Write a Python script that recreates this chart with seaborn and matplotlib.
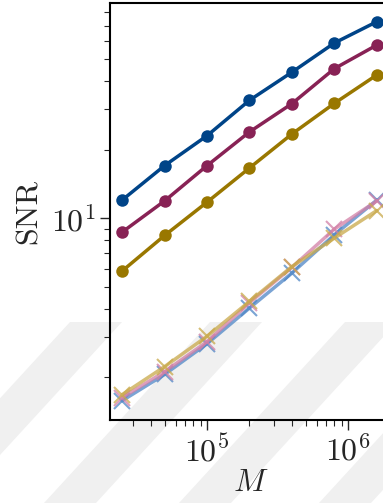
import matplotlib
matplotlib.use("Agg")
import matplotlib.pyplot as plt
from matplotlib.patches import Polygon
from matplotlib.ticker import NullFormatter, LogLocator
import pandas as pd
import seaborn as sns

# sample sizes and measured SNR for each configuration
M = [25000, 50000, 100000, 200000, 400000, 800000, 1600000]
snr_blue = [12.0, 17.0, 23.0, 32.9, 43.7, 58.7, 72.8]
snr_wine = [8.68, 11.9, 17.0, 23.9, 31.8, 45.3, 57.5]
snr_gold = [5.86, 8.39, 11.75, 16.6, 23.4, 31.9, 42.5]
snr_blue_x = [1.58, 2.06, 2.81, 4.03, 5.74, 8.45, 12.0]
snr_wine_x = [1.63, 2.12, 2.87, 4.25, 6.08, 8.95, 11.9]
snr_gold_x = [1.68, 2.23, 3.03, 4.31, 6.13, 8.17, 10.8]

sns.set_style("ticks")
plt.rcParams["font.family"] = ["cmr10", "DejaVu Serif"]
plt.rcParams["mathtext.fontset"] = "cm"
plt.rcParams["axes.formatter.use_mathtext"] = True
plt.rcParams["axes.unicode_minus"] = False

W, H = 383, 503
fig = plt.figure(figsize=(W / 100, H / 100), dpi=100)

# diagonal light-grey bands in the lower part of the figure
for x0 in [-70, 70, 210, 345, 485]:
    top, bot, w, shift = 322, 503, 52, 166
    pts = [(x0, top), (x0 + w, top), (x0 + w - shift, bot), (x0 - shift, bot)]
    poly = Polygon([(px / W, 1 - py / H) for px, py in pts], closed=True,
                   transform=fig.transFigure, facecolor="#f0f0f0",
                   edgecolor="none", zorder=-5)
    fig.patches.append(poly)

ax = fig.add_axes([110 / W, 83 / H, 280.5 / W, 417.3 / H])
ax.set_zorder(2)
ax.set_facecolor("none")

dark = {"blue": "#004488", "wine": "#882255", "gold": "#997700"}
light = {"blue": "#4f86c6", "wine": "#d27fa6", "gold": "#c9a94a"}

for key, vals in [("blue", snr_blue_x), ("wine", snr_wine_x), ("gold", snr_gold_x)]:
    sns.lineplot(x=M, y=vals, ax=ax, color=light[key], marker="x",
                 markersize=11, markeredgewidth=1.5, markeredgecolor=light[key],
                 linewidth=2.5, alpha=0.75, zorder=3)

for key, vals in [("blue", snr_blue), ("wine", snr_wine), ("gold", snr_gold)]:
    sns.lineplot(x=M, y=vals, ax=ax, color=dark[key], marker="o",
                 markersize=9, markeredgewidth=0, markeredgecolor=dark[key],
                 linewidth=2.5, zorder=4)

ax.set_xscale("log")
ax.set_yscale("log")
ax.set_xlim(2.05e4, 2.0e6)
ax.set_ylim(1.30, 88.2)

ax.yaxis.set_minor_locator(LogLocator(base=10, subs=range(2, 10), numticks=20))
ax.xaxis.set_minor_locator(LogLocator(base=10, subs=range(2, 10), numticks=20))
ax.xaxis.set_minor_formatter(NullFormatter())
ax.yaxis.set_minor_formatter(NullFormatter())

ax.tick_params(which="major", length=7, width=1.0, labelsize=23, direction="out")
ax.tick_params(which="minor", length=4, width=0.8, direction="out")
for s in ax.spines.values():
    s.set_linewidth(1.5)
    s.set_color("black")

ax.set_xlabel("$M$", fontsize=23, labelpad=2)
ax.set_ylabel("SNR", fontsize=23, labelpad=6)

fig.savefig("out.png", dpi=100)
